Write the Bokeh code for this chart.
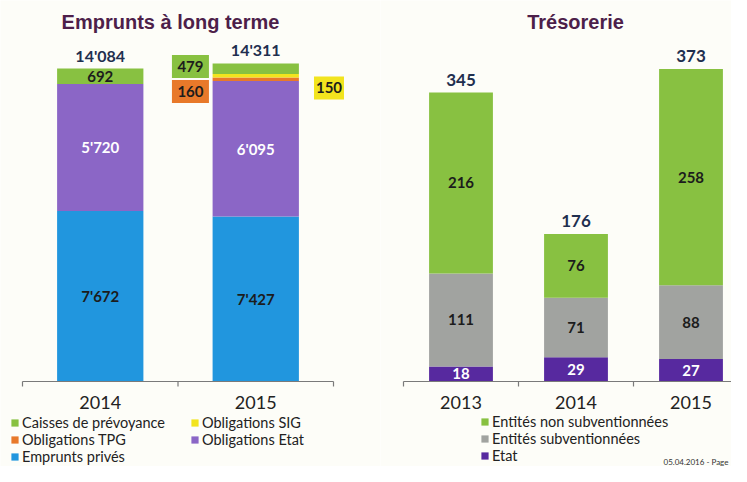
from bokeh.plotting import figure
from bokeh.models import Range1d, Legend, LegendItem, ColumnDataSource, Label
from bokeh.layouts import row
from bokeh.core.properties import value
from bokeh.embed import file_html
from bokeh.resources import INLINE

# ---------------- data ----------------
lt_years = ["2014", "2015"]
lt_emprunts_prives = [7672, 7427]
lt_oblig_etat = [5720, 6095]
lt_oblig_tpg = [0, 160]
lt_oblig_sig = [0, 150]
lt_caisses = [692, 479]
lt_totals = [14084, 14311]

tr_years = ["2013", "2014", "2015"]
tr_etat = [18, 29, 27]
tr_subv = [111, 71, 88]
tr_non_subv = [216, 76, 258]
tr_totals = [345, 176, 373]

# ---------------- style / layout ----------------
BG = "#fdfdf8"
C_GREEN = "#88c141"
C_YELLOW = "#f2e41e"
C_ORANGE = "#e8792a"
C_PURPLE = "#8b66c6"
C_BLUE = "#2196de"
C_GREY = "#a1a3a0"
C_ETAT = "#57299f"
TITLE_C = "#4d1f4a"
NUM_C = "#1c1c1c"
TOT_C = "#1f2f4f"
AXIS_C = "#7a7a7a"
FONT = "Lato"
TFONT = "Liberation Sans"
H = 466            # canvas height
BASE = 381         # baseline position (px from top)
BAR_W = 0.555


def fmt(v):
    return f"{v:,}".replace(",", "'")


def make_fig(width, left_px, cat_px, px_per_unit):
    x0 = -left_px / cat_px
    x1 = (width - left_px) / cat_px
    y1 = BASE / px_per_unit
    y0 = -(H - BASE) / px_per_unit
    p = figure(width=width, height=H, output_backend="svg", toolbar_location=None,
               x_axis_type=None, y_axis_type=None,
               x_range=Range1d(x0, x1), y_range=Range1d(y0, y1),
               min_border=0, min_border_left=0, min_border_right=0,
               min_border_top=0, min_border_bottom=0)
    p.background_fill_color = BG
    p.border_fill_color = BG
    p.outline_line_color = None
    p.xgrid.visible = False
    p.ygrid.visible = False
    return p


def add_category_axis(p, years, px_per_unit):
    n = len(years)
    ticks = list(range(n + 1))
    p.segment(x0=[0], y0=[0], x1=[n], y1=[0], line_color=AXIS_C, line_width=1.2)
    p.segment(x0=ticks, y0=[0] * len(ticks), x1=ticks, y1=[-5 / px_per_unit] * len(ticks),
              line_color=AXIS_C, line_width=1.2)
    centers = [i + 0.5 for i in range(n)]
    p.text(x=centers, y=[0] * n, text=years, text_align="center", text_baseline="middle",
           y_offset=21, text_font=value(FONT), text_font_size="18px", text_color="#222222")


def add_title(p, text, cx):
    p.add_layout(Label(x=cx, y=H - 21, x_units="screen", y_units="screen", text=text,
                       text_align="center", text_baseline="middle", text_font=TFONT,
                       text_font_size="20px", text_font_style="bold", text_color=TITLE_C))


def legend_style(lg):
    lg.label_text_font = FONT
    lg.label_text_font_size = "14.5px"
    lg.label_text_color = "#222222"
    lg.glyph_width = 9
    lg.glyph_height = 9
    lg.label_height = 13
    lg.label_standoff = 3
    lg.spacing = 0
    lg.padding = 0
    lg.margin = 0
    lg.border_line_color = None
    lg.background_fill_alpha = 0


# ================= left chart : Emprunts à long terme =================
W1 = 380
PX1 = 313.0 / lt_totals[0]
lt_x = [i + 0.5 for i in range(len(lt_years))]
p1 = make_fig(W1, 22, 155.5, PX1)
add_title(p1, "Emprunts à long terme", 170)

src1 = ColumnDataSource(dict(x=lt_x, prives=lt_emprunts_prives, etat=lt_oblig_etat,
                             tpg=lt_oblig_tpg, sig=lt_oblig_sig, caisses=lt_caisses))
lt_keys = ["prives", "etat", "tpg", "sig", "caisses"]
lt_colors = [C_BLUE, C_PURPLE, C_ORANGE, C_YELLOW, C_GREEN]
r1 = p1.vbar_stack(lt_keys, x="x", width=BAR_W, color=lt_colors, source=src1, line_width=0)

series1 = [lt_emprunts_prives, lt_oblig_etat, lt_oblig_tpg, lt_oblig_sig, lt_caisses]
txt_colors1 = [NUM_C, "white", NUM_C, NUM_C, NUM_C]
lx, ly, lt, lc = [], [], [], []
call_small = []
for j in range(len(lt_years)):
    base = 0
    for k, s in enumerate(series1):
        v = s[j]
        if v > 0:
            if v * PX1 >= 13:
                lx.append(lt_x[j]); ly.append(base + v / 2); lt.append(fmt(v)); lc.append(txt_colors1[k])
            else:
                call_small.append((j, k, v))
        base += v
p1.text(x=lx, y=ly, text=lt, text_color=lc, text_align="center", text_baseline="middle",
        text_font=value(FONT), text_font_size="15px", text_font_style="bold")
p1.text(x=lt_x, y=lt_totals, text=[fmt(t) for t in lt_totals], text_color=TOT_C,
        text_align="center", text_baseline="bottom", y_offset=-4,
        text_font=value(FONT), text_font_size="16px", text_font_style="bold")

# call-out boxes for the thin segments
cx, cy, cw, ccol, ct = [], [], [], [], []
for (j, k, v) in call_small:
    top = lt_totals[j]
    if k == 4:      # caisses de prévoyance: left, upper
        dx, dpx, w = -0.42, 3, 37
    elif k == 2:    # obligations TPG: left, lower
        dx, dpx, w = -0.42, 28, 37
    else:           # obligations SIG: right
        dx, dpx, w = 0.471, 24.5, 30
    cx.append(lt_x[j] + dx); cy.append(top - dpx / PX1); cw.append(w)
    ccol.append(lt_colors[k]); ct.append(fmt(v))
p1.rect(x=cx, y=cy, width=cw, height=[23] * len(cx), width_units="screen", height_units="screen",
        fill_color=ccol, line_color=None)
p1.text(x=cx, y=cy, text=ct, text_color=NUM_C, text_align="center", text_baseline="middle",
        text_font=value(FONT), text_font_size="15px", text_font_style="bold")

add_category_axis(p1, lt_years, PX1)

lt_names = ["Emprunts privés", "Obligations Etat", "Obligations TPG", "Obligations SIG",
            "Caisses de prévoyance"]
order = [4, 2, 0, 3, 1]
lg1 = Legend(items=[LegendItem(label=lt_names[i], renderers=[r1[i]]) for i in order],
             nrows=3, orientation="vertical", location=(10, 1))
legend_style(lg1)
lg1.label_width = 168
p1.add_layout(lg1, "center")

# ================= right chart : Trésorerie =================
W2 = 731 - W1
PX2 = 289.0 / tr_totals[0]
tr_x = [i + 0.5 for i in range(len(tr_years))]
p2 = make_fig(W2, 23, 115.0, PX2)
add_title(p2, "Trésorerie", 195)

src2 = ColumnDataSource(dict(x=tr_x, etat=tr_etat, subv=tr_subv, non=tr_non_subv))
tr_keys = ["etat", "subv", "non"]
tr_colors = [C_ETAT, C_GREY, C_GREEN]
r2 = p2.vbar_stack(tr_keys, x="x", width=BAR_W, color=tr_colors, source=src2, line_width=0)
series2 = [tr_etat, tr_subv, tr_non_subv]
txt_colors2 = ["white", NUM_C, NUM_C]
lx, ly, lt, lc = [], [], [], []
for j in range(len(tr_years)):
    base = 0
    for k, s in enumerate(series2):
        v = s[j]
        lx.append(tr_x[j]); ly.append(base + v / 2); lt.append(fmt(v)); lc.append(txt_colors2[k])
        base += v
p2.text(x=lx, y=ly, text=lt, text_color=lc, text_align="center", text_baseline="middle",
        text_font=value(FONT), text_font_size="15px", text_font_style="bold")
p2.text(x=tr_x, y=tr_totals, text=[fmt(t) for t in tr_totals], text_color=TOT_C,
        text_align="center", text_baseline="bottom", y_offset=-7,
        text_font=value(FONT), text_font_size="17px", text_font_style="bold")
add_category_axis(p2, tr_years, PX2)

tr_names = ["Etat", "Entités subventionnées", "Entités non subventionnées"]
lg2 = Legend(items=[LegendItem(label=tr_names[i], renderers=[r2[i]]) for i in [2, 1, 0]],
             orientation="vertical", location=(100, 2))
legend_style(lg2)
p2.add_layout(lg2, "center")
p2.add_layout(Label(x=283, y=5, x_units="screen", y_units="screen", text="05.04.2016 - Page",
                    text_baseline="middle", text_font=FONT, text_font_size="8px",
                    text_color="#333333"))

layout = row(p1, p2)
open("out.html", "w").write(file_html(layout, INLINE))
